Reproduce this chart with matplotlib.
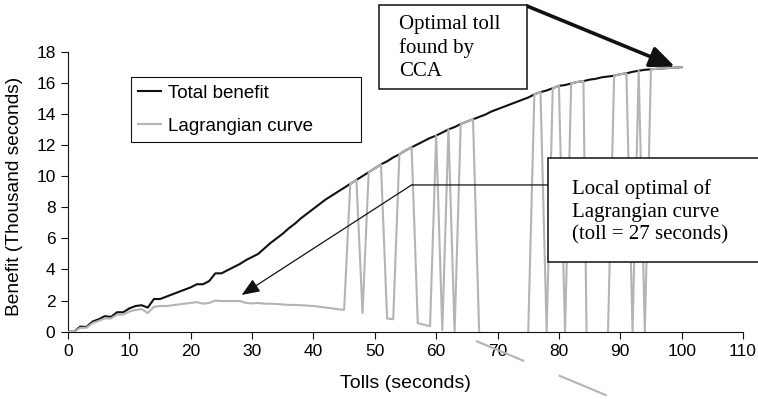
import numpy as np
import matplotlib.pyplot as plt
from matplotlib.patches import Rectangle

plt.rcParams['font.family'] = ['Liberation Sans', 'DejaVu Sans']

# tolls in seconds, benefit in thousand seconds
tolls = list(range(0, 101))

total_benefit = [
    0.0, 0.0, 0.33, 0.3, 0.65, 0.8, 1.0, 0.95, 1.25, 1.25,
    1.5, 1.65, 1.7, 1.55, 2.1, 2.1, 2.25, 2.4, 2.55, 2.7,
    2.85, 3.05, 3.05, 3.25, 3.75, 3.75, 3.95, 4.15, 4.35, 4.6,
    4.8, 5.0, 5.35, 5.7, 6.0, 6.3, 6.65, 6.95, 7.3, 7.6,
    7.9, 8.2, 8.5, 8.75, 9.0, 9.25, 9.5, 9.75, 10.0, 10.25,
    10.5, 10.75, 10.95, 11.2, 11.4, 11.65, 11.85, 12.05, 12.25, 12.45,
    12.6, 12.8, 13.0, 13.15, 13.35, 13.5, 13.65, 13.8, 13.95, 14.15,
    14.3, 14.45, 14.6, 14.75, 14.9, 15.05, 15.25, 15.4, 15.5, 15.65,
    15.8, 15.85, 15.95, 16.05, 16.1, 16.2, 16.25, 16.35, 16.4, 16.45,
    16.55, 16.6, 16.7, 16.77, 16.83, 16.86, 16.9, 16.92, 16.95, 16.97,
    17.0,
]

lagrangian = [
    0.0, 0.0, 0.25, 0.25, 0.55, 0.7, 0.85, 0.85, 1.1, 1.1,
    1.3, 1.4, 1.45, 1.2, 1.6, 1.65, 1.65, 1.7, 1.75, 1.8,
    1.85, 1.9, 1.8, 1.85, 2.0, 1.97, 1.97, 1.97, 1.97, 1.85,
    1.82, 1.85, 1.8, 1.8, 1.78, 1.75, 1.72, 1.72, 1.7, 1.68,
    1.65, 1.6, 1.55, 1.5, 1.45, 1.4, 9.5, 9.75, 1.2, 10.25,
    10.5, 10.75, 0.85, 0.8, 11.4, 11.65, 11.85, 0.55, 0.45, 0.35,
    12.6, 0.1, 13.0, 0.0, 13.35, 13.5, 13.65, 0.0, -6.0, -6.0,
    -6.0, -6.0, -6.0, -6.0, -6.0, 0.0, 15.25, 15.4, 0.0, 15.65,
    15.8, 0.0, 15.95, 16.05, 16.1, -16.0, -16.0, -16.0, 0.0, 16.45,
    16.55, 16.6, 0.0, 16.77, 0.0, 16.86, 16.9, 16.92, 16.95, 16.97,
    17.0,
]

# stray piece of the grey curve left below the axis in the original
stray_x = [66.5, 88.0]
stray_y = [-0.6, -4.13]

optimal_point = (98.9, 17.03)
local_point = (28.3, 2.36)
local_elbow = (56.0, 9.43)
local_box_edge = 78.2

W, H = 758, 399
fig = plt.figure(figsize=(W / 100, H / 100), dpi=100)
ax = fig.add_axes([68 / W, (H - 331.7) / H, 675 / W, 280.1 / H])

black = '#111111'
grey = '#b4b4b4'

ax.plot(tolls, total_benefit, color=black, lw=1.5, label='Total benefit', zorder=2)
ax.plot(tolls, lagrangian, color=grey, lw=1.5, label='Lagrangian curve', zorder=3)
ax.plot(stray_x, stray_y, color=grey, lw=1.5, ls=(0, (25, 18)), clip_on=False)

ax.set_xlim(0, 110)
ax.set_ylim(0, 18)
ax.set_xticks(range(0, 111, 10))
ax.set_yticks(range(0, 19, 2))
for s in ['top', 'right']:
    ax.spines[s].set_visible(False)
for s in ['left', 'bottom']:
    ax.spines[s].set_color(black)
    ax.spines[s].set_linewidth(0.8)
ax.tick_params(axis='both', direction='out', length=5, width=0.8,
               color=black, labelsize=12.5)
ax.tick_params(axis='y', pad=4)
ax.tick_params(axis='x', pad=4)

fig.text(15 / W, 1 - 196 / H, 'Benefit (Thousand seconds)', rotation=90,
         ha='center', va='center', fontsize=13.8)
fig.text(405.5 / W, 1 - 383 / H, 'Tolls (seconds)', ha='center',
         va='center', fontsize=14)

leg = ax.legend(loc='lower left', bbox_to_anchor=(0.0933, 0.677, 0.341, 0.24),
                mode='expand', fancybox=False, edgecolor=black, framealpha=1,
                borderpad=0.4, labelspacing=0.85, handlelength=1.2,
                handletextpad=0.4, fontsize=13.5, borderaxespad=0)
leg.get_frame().set_linewidth(0.8)

# annotation boxes
serif = ['Liberation Serif', 'DejaVu Serif']
fig.add_artist(Rectangle((379 / W, 1 - 89 / H), 148 / W, 84 / H,
                         transform=fig.transFigure, facecolor='white',
                         edgecolor=black, lw=1.1, zorder=5))
fig.text(399 / W, 1 - 48 / H, 'Optimal toll\nfound by\nCCA', family=serif,
         fontsize=15, ha='left', va='center', linespacing=1.27, zorder=6)

fig.add_artist(Rectangle((548 / W, 1 - 262 / H), 220 / W, 104 / H,
                         transform=fig.transFigure, facecolor='white',
                         edgecolor=black, lw=1.1, zorder=5))
fig.text(571.7 / W, 1 - 212 / H,
         'Local optimal of\nLagrangian curve\n(toll = 27 seconds)',
         family=serif, fontsize=15, ha='left', va='center',
         linespacing=1.24, zorder=6)

ax.annotate('', xy=optimal_point, xycoords='data',
            xytext=(527 / W, 1 - 6 / H), textcoords='figure fraction',
            annotation_clip=False,
            arrowprops=dict(arrowstyle='-|>,head_length=0.75,head_width=0.32',
                            mutation_scale=20, lw=2.6, color=black,
                            shrinkA=0, shrinkB=0))
ax.annotate('', xy=local_elbow, xytext=(local_box_edge, local_elbow[1]),
            arrowprops=dict(arrowstyle='-', lw=0.9, color=black,
                            shrinkA=0, shrinkB=0))
ax.annotate('', xy=local_point, xytext=local_elbow,
            arrowprops=dict(arrowstyle='-|>,head_length=0.55,head_width=0.22',
                            mutation_scale=20, lw=0.9, color=black,
                            shrinkA=0, shrinkB=0))

fig.savefig('out.png', dpi=100)
